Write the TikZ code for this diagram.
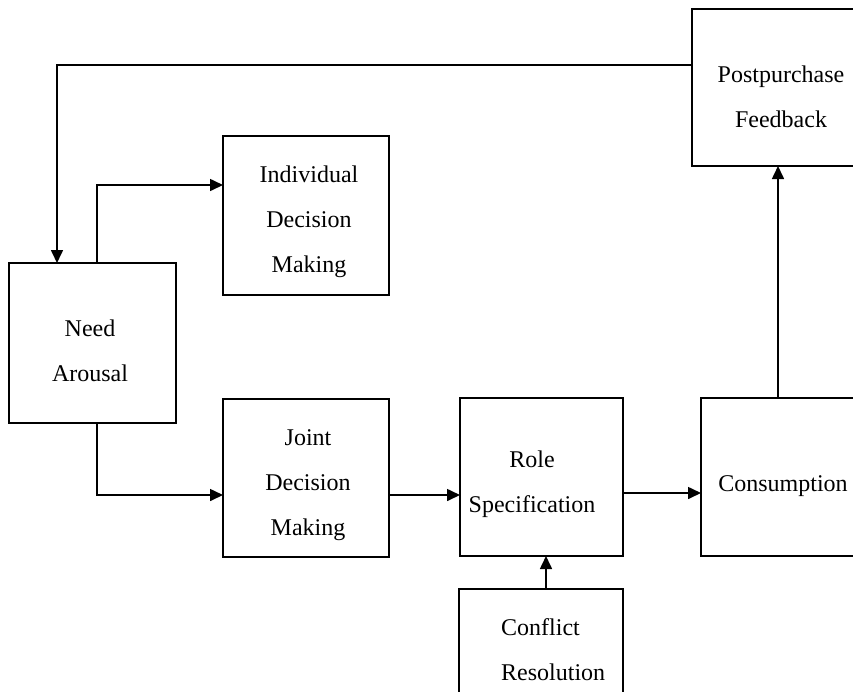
\documentclass[tikz,border=0pt]{standalone}
\usepackage{fontspec}
\setmainfont{Liberation Serif}
\usetikzlibrary{arrows.meta}
\begin{document}
\begin{tikzpicture}[x=1pt,y=-1pt,
  box/.style={draw, line width=1.6pt, inner sep=0pt, outer sep=0pt},
  txt/.style={font=\fontsize{24}{45}\selectfont, inner sep=0pt, align=center},
  arr/.style={line width=1.6pt, -{Triangle[length=13pt,width=12pt]}}]
\useasboundingbox (0,0) rectangle (853,691);
\clip (0,0) rectangle (853,691);
% boxes
\node[box, minimum width=178pt, minimum height=157pt] (post) at (781,87.5) {};
\node[box, minimum width=166pt, minimum height=159pt] (ind) at (306,215.5) {};
\node[box, minimum width=167pt, minimum height=160pt] (need) at (92.5,343) {};
\node[box, minimum width=166pt, minimum height=158pt] (joint) at (306,478) {};
\node[box, minimum width=163pt, minimum height=158pt] (role) at (541.5,477) {};
\node[box, minimum width=169pt, minimum height=158pt] (cons) at (785.5,477) {};
\node[box, minimum width=164pt, minimum height=171pt] (conf) at (541,674.5) {};
% texts
\node[txt] (postt) at (781,97) {Postpurchase\\Feedback};
\node[txt] (indt) at (309,222) {Individual\\Decision\\Making};
\node[txt] (needt) at (90,351) {Need\\Arousal};
\node[txt] (jointt) at (308,485) {Joint\\Decision\\Making};
\node[txt] (rolet) at (532,484) {Role\\Specification};
\node[txt] (const) at (783,486) {Consumption};
\node[txt, align=left, anchor=west] (conft) at (501,650) {Conflict\\Resolution};
% helper coordinates
\coordinate (fb) at (57,65);
\coordinate (ni) at (97,185);
\coordinate (nj) at (97,495);
\coordinate (rc) at (0,493);
\coordinate (cp) at (778,0);
\coordinate (cr) at (546,0);
% connectors
\draw[arr] (post.west |- fb) -| (need.north -| fb);
\draw[arr] (need.north -| ni) |- (ind.west |- ni);
\draw[arr] (need.south -| nj) |- (joint.west |- nj);
\draw[arr] (joint.east |- nj) -- (role.west |- nj);
\draw[arr] (role.east |- rc) -- (cons.west |- rc);
\draw[arr] (cons.north -| cp) -- (post.south -| cp);
\draw[arr] (conf.north -| cr) -- (role.south -| cr);
\end{tikzpicture}
\end{document}
